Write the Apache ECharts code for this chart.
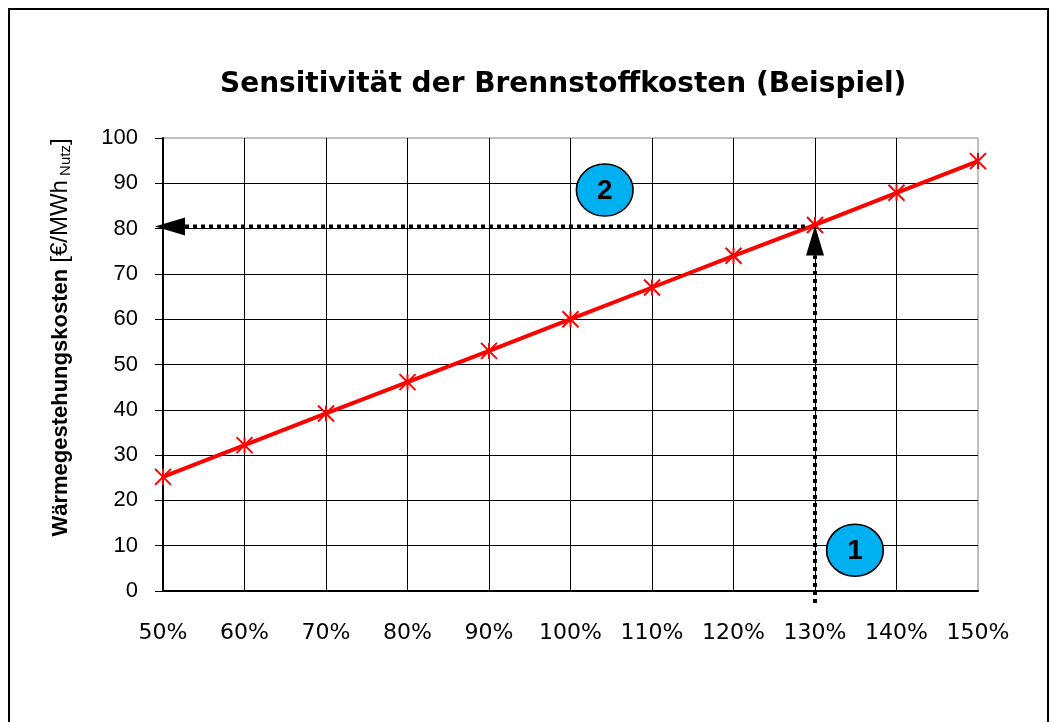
<!DOCTYPE html>
<html>
<head>
<meta charset="utf-8">
<script src="https://cdn.jsdelivr.net/npm/echarts@6/dist/echarts.min.js"></script>
<style>
html,body{margin:0;padding:0;background:#fff;}
#frame{position:absolute;left:8px;top:8px;width:1041px;height:730px;border:2px solid #000;box-sizing:border-box;}
#chart{position:absolute;left:0;top:0;width:1056px;height:722px;}
</style>
</head>
<body>
<div id="frame"></div>
<div id="chart"></div>
<script>
// ---- data ----
const titleText = 'Sensitivität der Brennstoffkosten (Beispiel)';
const fuelCostShare = [50, 60, 70, 80, 90, 100, 110, 120, 130, 140, 150]; // % of base fuel cost
const heatCost = [25.2, 32.2, 39.2, 46.1, 53.0, 60.0, 67.0, 74.0, 80.8, 87.9, 94.9]; // €/MWh
const yTicks = [0, 10, 20, 30, 40, 50, 60, 70, 80, 90, 100];
// annotation: read-off example
const readX = 130;      // step 1: chosen fuel cost level (%)
const readY = 80.7;     // step 2: resulting heat cost
const badge1 = {label: '1', x: 134.9, y: 9.0};
const badge2 = {label: '2', x: 104.2, y: 88.5};

const chart = echarts.init(document.getElementById('chart'), null, {renderer: 'canvas'});

const starPath = 'path://M0,0L10,10M10,0L0,10M5,0L5,10';

chart.setOption({
  animation: false,
  backgroundColor: 'transparent',
  title: {
    text: titleText,
    left: 215,
    top: 66,
    textStyle: {fontFamily: 'DejaVu Sans', fontWeight: 'bold', fontSize: 28, color: '#000'}
  },
  grid: {left: 163, right: 78, top: 138, bottom: 131, containLabel: false,
         show: true, borderColor: '#808080', borderWidth: 1},
  xAxis: {
    type: 'value', min: 50, max: 150, interval: 10,
    axisLine: {show: true, onZero: false, lineStyle: {color: '#000', width: 2}},
    axisTick: {show: false},
    splitLine: {show: true, showMaxLine: false, lineStyle: {color: '#000', width: 1}},
    axisLabel: {formatter: '{value}%', margin: 31, fontFamily: 'DejaVu Sans', fontSize: 22, color: '#000'}
  },
  yAxis: {
    type: 'value', min: yTicks[0], max: yTicks[yTicks.length - 1], interval: 10,
    axisLine: {show: true, lineStyle: {color: '#000', width: 2}},
    axisTick: {show: true, length: 8, inside: false, lineStyle: {color: '#000', width: 1}},
    splitLine: {show: true, showMaxLine: false, lineStyle: {color: '#000', width: 1}},
    axisLabel: {margin: 25, fontFamily: 'Liberation Sans', fontSize: 22, color: '#000'},
    name: '{b|Wärmegestehungskosten }{n|[€/MWh}{s| Nutz}{n|]}',
    nameLocation: 'middle',
    nameRotate: 90,
    nameGap: 90,
    nameTextStyle: {
      padding: [0, 0, 0, 54],
      rich: {
        b: {fontFamily: 'Liberation Sans', fontWeight: 'bold', fontSize: 22, color: '#000'},
        n: {fontFamily: 'Liberation Sans', fontSize: 24, color: '#000'},
        s: {fontFamily: 'Liberation Sans', fontSize: 15, color: '#000', padding: [10, 0, 0, 0]}
      }
    }
  },
  series: [{
    type: 'line',
    data: fuelCostShare.map((x, i) => [x, heatCost[i]]),
    lineStyle: {color: '#ff0000', width: 4},
    symbol: starPath,
    symbolSize: 16,
    itemStyle: {color: 'rgba(0,0,0,0)', borderColor: '#ff0000', borderWidth: 2},
    z: 3
  }]
});

function drawAnnotations() {
  const p = (x, y) => chart.convertToPixel({gridIndex: 0}, [x, y]);
  const tip = p(readX, readY);
  const base0 = p(readX, 0);
  const leftEdge = p(fuelCostShare[0], readY);
  const dash = {stroke: '#000', lineWidth: 4, lineDash: [4, 4]};
  const b1 = p(badge1.x, badge1.y);
  const b2 = p(badge2.x, badge2.y);
  const badge = (c, txt) => ({
    type: 'group', x: c[0], y: c[1], z: 20,
    children: [
      {type: 'circle', shape: {cx: 0, cy: 0, r: 26}, scaleX: 1.09, scaleY: 1,
       style: {fill: '#00b0f0', stroke: '#000', lineWidth: 1.5}},
      {type: 'text', x: 0, y: 1, style: {text: txt, fill: '#000', font: 'bold 28px "Liberation Sans"', align: 'center', verticalAlign: 'middle'}}
    ]
  });
  chart.setOption({
    graphic: [
      // step 1: vertical dotted arrow
      {type: 'line', z: 10, shape: {x1: tip[0], y1: base0[1] + 12, x2: tip[0], y2: tip[1] + 30}, style: dash},
      {type: 'polygon', z: 10, shape: {points: [[tip[0], tip[1]], [tip[0] - 9, tip[1] + 30], [tip[0] + 9, tip[1] + 30]]}, style: {fill: '#000'}},
      // step 2: horizontal dotted arrow
      {type: 'line', z: 10, shape: {x1: tip[0] - 10, y1: tip[1] + 1, x2: leftEdge[0] + 22, y2: tip[1] + 1}, style: dash},
      {type: 'polygon', z: 10, shape: {points: [[leftEdge[0] - 8, tip[1] + 1], [leftEdge[0] + 22, tip[1] - 8], [leftEdge[0] + 22, tip[1] + 10]]}, style: {fill: '#000'}},
      badge(b1, badge1.label),
      badge(b2, badge2.label)
    ]
  });
}
drawAnnotations();
</script>
</body>
</html>
